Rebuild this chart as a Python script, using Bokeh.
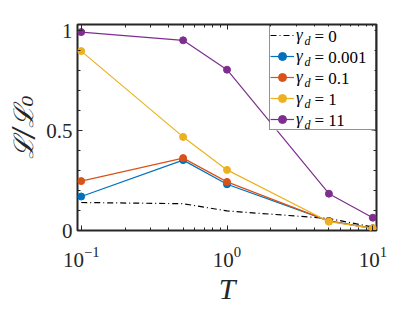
from bokeh.plotting import figure
from bokeh.models import (Range1d, FixedTicker, LinearAxis, LogAxis, Legend, LegendItem,
                          Label, NumeralTickFormatter, BoxAnnotation)
from bokeh.embed import file_html
from bokeh.resources import INLINE

# ---- data ----
T = [0.1, 0.5, 1, 5, 10]
gamma_labels = ["0", "0.001", "0.1", "1", "11"]
L_g0 = [0.140, 0.134, 0.098, 0.060, 0.017]
L_g0001 = [0.170, 0.352, 0.231, 0.048, 0.011]
L_g01 = [0.247, 0.362, 0.243, 0.047, 0.011]
L_g1 = [0.897, 0.468, 0.303, 0.044, 0.011]
L_g11 = [0.992, 0.951, 0.804, 0.184, 0.064]
y_major = [0, 0.5, 1]
y_minor = [0.1, 0.2, 0.3, 0.4, 0.6, 0.7, 0.8, 0.9, 1.0]
x_major = [0.1, 1, 10]
x_minor = [0.2, 0.3, 0.4, 0.5, 0.6, 0.7, 0.8, 0.9, 2, 3, 4, 5, 6, 7, 8, 9]

colors = ["black", "#0072BD", "#D95319", "#EDB120", "#7E2F8E"]
series = [L_g0, L_g0001, L_g01, L_g1, L_g11]

p = figure(width=415, height=312, x_axis_type="log",
           x_range=Range1d(0.0943, 10.6), y_range=Range1d(0, 1.03),
           output_backend="svg", toolbar_location=None,
           min_border_left=77, min_border_right=39, min_border_top=24, min_border_bottom=82)
p.background_fill_color = "white"
p.border_fill_color = "white"
p.xgrid.visible = False
p.ygrid.visible = False
p.outline_line_color = "#262626"
p.outline_line_width = 2

AX = "#262626"
for ax in [p.xaxis[0], p.yaxis[0]]:
    ax.axis_line_color = None
    ax.major_tick_in = 5
    ax.major_tick_out = 0
    ax.minor_tick_in = 3
    ax.minor_tick_out = 0
    ax.major_tick_line_color = AX
    ax.minor_tick_line_color = AX
    ax.major_label_text_font = "Liberation Serif"
    ax.major_label_text_font_size = "21px"
    ax.major_label_text_color = AX
    ax.axis_label_text_color = AX
    ax.axis_label_text_font_style = "italic"

p.xaxis[0].ticker = FixedTicker(ticks=x_major, minor_ticks=x_minor)
p.xaxis[0].major_label_standoff = 16
p.xaxis[0].axis_label = "T"
p.xaxis[0].axis_label_text_font = "Liberation Serif"
p.xaxis[0].axis_label_text_font_size = "30px"
p.xaxis[0].axis_label_standoff = 2

p.yaxis[0].ticker = FixedTicker(ticks=y_major, minor_ticks=y_minor)
p.yaxis[0].formatter = NumeralTickFormatter(format="0.[0]")
p.yaxis[0].major_label_standoff = 5
p.yaxis[0].axis_label = "ℒ/ℒ₀"
p.yaxis[0].axis_label_text_font = "DejaVu Serif"
p.yaxis[0].axis_label_text_font_size = "27px"
p.yaxis[0].axis_label_standoff = 4

# box-style ticks on top and right
top = LogAxis(ticker=FixedTicker(ticks=x_major, minor_ticks=x_minor),
              major_label_text_color=None,
              axis_line_color=None, major_tick_in=5, major_tick_out=0, minor_tick_in=3, minor_tick_out=0,
              major_tick_line_color=AX, minor_tick_line_color=AX)
right = LinearAxis(ticker=FixedTicker(ticks=y_major, minor_ticks=y_minor),
                   major_label_text_color=None,
                   axis_line_color=None, major_tick_in=5, major_tick_out=0, minor_tick_in=3, minor_tick_out=0,
                   major_tick_line_color=AX, minor_tick_line_color=AX)
p.add_layout(top, "above")
p.add_layout(right, "right")

items = []
for i, (vals, c) in enumerate(zip(series, colors)):
    if i == 0:
        r = p.line(T, vals, line_color=c, line_width=1.2, line_dash="6 3 1 3")
        items.append(LegendItem(label="γ", renderers=[r]))
    else:
        r = p.line(T, vals, line_color=c, line_width=1.2)
        m = p.scatter(T, vals, size=7, fill_color=c, line_color=c)
        items.append(LegendItem(label="γ", renderers=[r, m]))

LEG_X, LEG_Y = 192, 100
ROW_H, SPACING, PAD, GLYPH_W, STANDOFF, LABEL_W = 20, 1, 0, 24, 2, 79
legend_h = 5 * ROW_H + 4 * SPACING + 2 * PAD
legend_w = 2 * PAD + GLYPH_W + STANDOFF + LABEL_W

# opaque white background for the legend area (drawn above the data lines)
p.add_layout(BoxAnnotation(left=LEG_X, right=LEG_X + legend_w, bottom=LEG_Y, top=LEG_Y + legend_h,
                           left_units="screen", right_units="screen",
                           bottom_units="screen", top_units="screen",
                           fill_color="white", fill_alpha=1.0, line_color=None))

legend = Legend(items=items, location=(LEG_X, LEG_Y), padding=PAD, spacing=SPACING,
                glyph_width=GLYPH_W, glyph_height=ROW_H, label_height=ROW_H, label_width=LABEL_W,
                label_standoff=STANDOFF, margin=0,
                label_text_font="Liberation Serif", label_text_font_style="italic",
                label_text_font_size="17px", label_text_color="black",
                border_line_color=AX, border_line_width=1.5,
                background_fill_alpha=0.0)
p.add_layout(legend, "center")

label_x0 = LEG_X + PAD + GLYPH_W + STANDOFF
for i, g in enumerate(gamma_labels):
    cy = LEG_Y + legend_h - PAD - i * (ROW_H + SPACING) - ROW_H / 2
    p.add_layout(Label(x=label_x0 + 9, y=cy - 4, x_units="screen", y_units="screen", text="d",
                       text_font="Liberation Serif", text_font_style="italic", text_font_size="12px",
                       text_baseline="middle", text_color="black", level="overlay"))
    p.add_layout(Label(x=label_x0 + 19, y=cy, x_units="screen", y_units="screen", text="= " + g,
                       text_font="Liberation Serif", text_font_size="17px",
                       text_baseline="middle", text_color="black", level="overlay"))

open("out.html", "w").write(file_html(p, INLINE))
